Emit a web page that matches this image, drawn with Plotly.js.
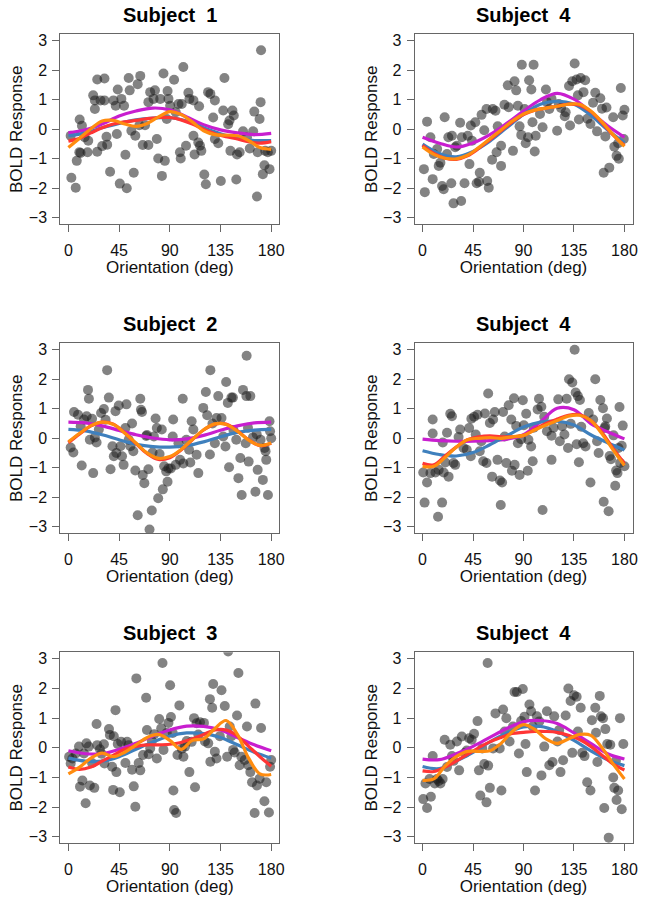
<!DOCTYPE html>
<html>
<head>
<meta charset="utf-8">
<script src="https://cdn.plot.ly/plotly-3.0.1.min.js"></script>
<style>html,body{margin:0;padding:0;background:#fff;}#chart{width:649px;height:900px;}</style>
</head>
<body>
<div id="chart"></div>
<script>
// ---------- DATA ----------
var titles = ["Subject\u00A0\u00A01", "Subject\u00A0\u00A04", "Subject\u00A0\u00A02", "Subject\u00A0\u00A04", "Subject\u00A0\u00A03", "Subject\u00A0\u00A04"];
var xTickVals = [0, 45, 90, 135, 180];
var yTickVals = [-3, -2, -1, 0, 1, 2, 3];
var grid15 = [0, 15, 30, 45, 60, 75, 90, 105, 120, 135, 150, 165, 180];
var grid10 = [0, 10, 20, 30, 40, 50, 60, 70, 80, 90, 100, 110, 120, 130, 140, 150, 160, 170, 180];

// Panel 1 (Subject 1)
var p1_x = [2,2.6,6.5,7.4,9.7,10.8,10,12,14.4,17,17.6,22,23.5,23.5,25.6,25.6,28.5,32,32,30,33.8,34.4,37,40,42,43.8,43,45.6,47,49.4,50.6,51.8,53.5,54.4,55.9,58,59.4,61.5,63.8,63,66,68,71,71,72.6,75.6,76.8,78.5,79.7,81.5,83,84.4,85.6,87.3,88,88.8,90.3,93.8,95.3,97.7,99,99.7,102,100.6,104.4,106.5,107.4,111,111,112,115.3,116,116.8,118,120.6,122,124,126,128.5,130,130,133,135.3,137.4,138.5,141.8,143,143.8,145.6,146.8,149,149.7,152,155,158.5,161,164,165,167.4,168,169.7,170.6,171,172.6,174,174.7,177,178.5,180];
var p1_y = [-0.22,-1.64,-1.98,-1.07,-0.78,-0.8,0.33,0.12,-0.27,-0.78,-0.39,1.15,0.98,0.69,1.69,-0.76,0.98,1.72,0.98,-0.57,-0.25,-0.52,-1.44,0.98,0.8,1.35,-0.16,-1.84,1.03,0.8,-0.86,-2.0,1.74,1.32,-0.05,-1.47,-0.22,1.53,1.81,0.14,-0.53,0.14,-0.53,0.92,1.26,1.03,1.32,-0.33,-0.99,1.03,-1.58,1.89,-1.07,0.35,1.3,1.03,0.8,1.68,0.58,0.86,-0.78,-0.99,2.11,0.86,-0.56,1.24,1.03,-0.22,0.98,-0.85,-0.45,0.78,-0.56,-0.73,-1.53,-1.86,1.26,1.2,0.4,0.98,-0.33,-0.47,-1.75,0.64,1.74,0.17,0.3,-0.73,0.64,0.47,-1.7,-0.85,-0.78,-0.07,-0.27,-0.65,-0.07,0.6,-2.28,-0.78,0.35,0.92,2.68,-1.52,-1.22,-0.73,-0.78,-1.35,-0.73];
var p1_magenta = [-0.12,-0.02,0.18,0.45,0.62,0.72,0.66,0.42,0.15,-0.02,-0.12,-0.18,-0.14];
var p1_blue = [-0.22,-0.12,0.05,0.2,0.32,0.38,0.4,0.28,0.05,-0.15,-0.3,-0.38,-0.38];
var p1_red = [-0.4,-0.3,-0.12,0.05,0.18,0.25,0.3,0.36,0.4,0.4,0.32,0.18,0.0,-0.15,-0.25,-0.33,-0.42,-0.47,-0.42];
var p1_orange = [-0.62,-0.3,0.02,0.28,0.3,0.18,0.1,0.2,0.42,0.6,0.5,0.25,-0.05,-0.18,-0.2,-0.22,-0.38,-0.62,-0.68];

// Panel 2 (Subject 4, top right)
var p2_x = [1.2,2,4,7,9,10,13,14.4,15.9,17.4,18.8,19.7,21.8,23,25.6,26.2,27.6,29.1,30.6,33.5,34.4,35,37.4,40.3,41.8,43,44.1,47,48.2,50.3,51,52.6,55,57.6,59,57,62,62.6,65,66,67,70,70,73,76,76.8,80.6,82,83.5,85,86.5,88,88.5,91,92,94.1,95,97,98,99,100,100.9,104.7,107,110,110.9,113,115,120,121.5,123.5,126.8,127.6,130.6,131.5,133.5,135.6,137.3,138.5,139.4,141,143.5,145,147,149.7,152,154,155.6,158.5,160,161.5,163,164,166.5,170,171,173,174.4,175,176.8,178.5,180,179.4];
var p2_y = [-1.35,-2.13,0.26,-0.27,-1.69,-0.84,-0.67,-1.24,-1.13,-1.92,-2.03,0.41,-0.84,-0.27,-1.83,-0.22,-2.51,-0.61,-0.56,0.22,-2.43,-0.27,-1.83,-0.22,-1.18,0.13,-0.39,0.24,-1.83,-1.78,-1.47,0.49,-0.03,-1.75,-1.98,0.69,-1.03,0.69,0.63,-0.78,0.1,-1.24,-0.56,0.83,1.49,0.75,-0.73,1.63,1.32,0.8,0.1,-0.19,2.19,0.69,-0.47,-0.27,1.66,1.35,0.24,2.19,-0.75,-0.22,0.52,0.07,1.35,0.92,0.69,1.03,-0.05,0.86,0.72,0.44,0.58,1.47,0.13,1.63,2.23,1.69,1.15,0.33,1.74,1.26,1.66,0.36,0.18,0.9,1.24,-0.07,1.05,0.7,-1.47,-0.24,0.74,-1.3,0.41,-0.59,-0.9,-0.47,-1.0,1.4,0.47,0.66,-0.33];
var p2_magenta = [-0.27,-0.47,-0.6,-0.46,-0.18,0.2,0.62,1.0,1.22,1.02,0.58,0.12,-0.27];
var p2_blue = [-0.5,-0.82,-0.93,-0.75,-0.4,0.05,0.5,0.85,0.95,0.85,0.48,-0.02,-0.45];
var p2_red = [-0.55,-0.82,-0.98,-1.02,-0.9,-0.65,-0.35,-0.05,0.25,0.5,0.65,0.72,0.78,0.85,0.82,0.6,0.22,-0.2,-0.55];
var p2_orange = [-0.6,-0.85,-0.98,-1.0,-0.88,-0.62,-0.32,-0.02,0.28,0.52,0.65,0.72,0.78,0.85,0.85,0.62,0.25,-0.18,-0.58];

// Panel 3 (Subject 2)
var p3_x = [2,4.4,5,8.5,10.9,11.8,13.8,16.2,17.4,18.2,19,21,22,23.5,25,27,29,31.5,33,34.4,35.9,37.4,39.1,40.3,41.8,42.6,44.7,46.2,47.6,49,50.6,51.5,53.5,55,56.5,57.6,59.4,61.5,63.8,64.4,65.3,66,67.4,69.1,69.7,71,72,74,74.7,75.9,77.4,78.5,79.7,80.9,82.9,83.8,85,86.8,88,88.8,90.9,92.6,93,95.3,97.7,99.1,101.5,102,104.7,107.1,108.2,109.4,110.9,113.8,115.3,119.7,122,123.2,125.6,126,127.9,130,131.5,133,135.9,137.4,139.4,140,141.5,142.6,144.7,146,146.5,149,150.9,152.6,153.8,155,157.4,158,158.2,159.4,160,161.5,163.8,166,167.1,168,170.6,172.6,174.1,175,175.6,177.1,178.5,179,180];
var p3_y = [-0.31,-0.48,0.89,0.8,0.41,-0.92,0.64,0.75,1.64,1.34,-0.05,0.66,-1.18,0.03,-0.14,0.3,0.86,0.99,0.63,2.31,1.38,-1.05,-0.27,-0.61,0.92,-0.5,1.11,-0.27,-0.61,-0.9,0.35,1.15,-0.05,-0.27,0.5,-0.44,-1.09,-2.61,1.34,0.97,0.89,-1.24,-1.52,0.08,0.11,-1.05,-3.09,-2.45,-0.48,0.06,0.67,0.35,-2.03,-0.53,0.3,-1.73,-0.95,-1.12,-1.47,-1.02,-1.02,0.06,0.64,-0.9,-0.17,-0.73,1.34,-0.85,-0.05,-0.39,-0.82,0.58,0.3,-0.56,-1.18,1.03,1.57,0.78,-0.55,2.31,0.5,-0.17,0.69,1.43,0.69,0.06,-0.28,1.91,1.2,-0.98,1.38,1.38,0.28,-0.05,-1.35,-0.67,-1.92,1.64,-0.17,1.43,2.8,0.36,-0.79,1.43,0.03,-1.81,0.14,-1.07,-0.05,-1.41,-0.33,-0.44,-0.73,-1.92,0.58,0.24,0.0,-1.2,-0.1];
var p3_magenta = [0.55,0.52,0.42,0.27,0.12,0.01,-0.05,-0.02,0.1,0.27,0.42,0.52,0.55];
var p3_blue = [0.3,0.25,0.12,-0.05,-0.2,-0.28,-0.3,-0.25,-0.12,0.05,0.2,0.28,0.3];
var p3_red = [-0.15,0.15,0.42,0.55,0.48,0.18,-0.18,-0.52,-0.72,-0.66,-0.4,-0.05,0.28,0.48,0.48,0.25,-0.05,-0.25,-0.17];
var p3_orange = [-0.12,0.17,0.43,0.55,0.47,0.18,-0.16,-0.5,-0.68,-0.62,-0.38,-0.04,0.29,0.49,0.47,0.24,-0.06,-0.24,-0.16];

// Panel 4 (Subject 4, middle right)
var p4_x = [0.6,1.8,4,7,9,9,11.5,13.8,14.4,17.4,18,18.8,20.3,21.8,23.2,24.7,26.2,27.6,29.1,32.1,33.5,36.5,39.4,41.5,43,43.5,46,47.4,49,51,52.4,54.1,55.6,57,58.5,60,62,62.9,64.4,66.8,69,69.7,70.9,71.8,73.2,74.7,76.8,79.1,79.7,81.5,82.1,83.5,85,86.5,87.9,89.4,90.3,92.4,93.8,94.4,96.8,98.2,99.1,102.6,103.8,105.9,107,108.5,110.9,115,115,116.8,121,122.4,124.4,126.5,128.5,129.7,130.6,132.1,133.5,135.6,136.5,137.4,138.5,139.4,140.3,141.5,143.2,145.3,148.2,149.7,152.1,154,155.6,157,158.5,160.9,161.5,162.4,162.9,164.4,165.9,166.8,168,170.3,171.8,172.6,173.8,174.7,175.6,176.2,177.6,178.5,180];
var p4_y = [-1.16,-2.18,-1.5,-1.18,0.64,0.16,-1.16,-2.66,-1.07,-2.18,-0.14,-1.16,-0.82,0.19,-1.3,0.83,0.75,-0.84,-0.9,0.04,0.3,-0.33,-0.39,0.35,-0.61,0.66,0.73,0.13,0.8,-0.44,-0.1,-0.78,0.84,-0.84,1.52,0.52,-1.3,0.64,0.89,-0.73,-1.43,-2.26,-1.5,0.89,0.06,-0.84,1.12,0.64,-1.1,1.36,-0.9,0.42,-0.17,-1.24,-0.03,1.29,0.44,0.83,-1.1,-0.05,-0.28,-0.78,0.36,0.98,1.34,1.07,-2.43,0.73,0.24,-0.73,0.09,0.36,1.32,-0.1,0.41,0.13,1.34,-0.33,2.0,0.49,1.89,3.0,1.55,-0.2,1.43,-0.81,1.3,0.39,-0.17,-0.28,0.86,-1.5,0.64,2.0,-0.1,-0.5,1.3,1.02,-2.15,0.35,0.41,0.67,-2.47,-0.6,-0.71,0.1,-1.61,-1.09,-1.18,-0.33,1.06,-0.84,-0.25,0.43,-0.95];
var p4_magenta = [-0.03,-0.08,-0.1,-0.1,-0.08,-0.03,0.12,0.55,1.02,0.97,0.5,0.22,-0.02];
var p4_blue = [-0.42,-0.55,-0.6,-0.48,-0.22,0.08,0.38,0.55,0.58,0.45,0.12,-0.15,-0.4];
var p4_red = [-0.85,-0.9,-0.6,-0.3,-0.05,0.05,0.08,0.05,0.05,0.1,0.3,0.5,0.65,0.78,0.8,0.6,0.2,-0.35,-0.85];
var p4_orange = [-0.95,-0.95,-0.65,-0.3,-0.05,0.0,0.02,0.0,0.05,0.1,0.28,0.45,0.6,0.75,0.78,0.6,0.15,-0.4,-0.92];

// Panel 5 (Subject 3)
var p5_x = [0.6,2,3.5,6.5,9.4,10.3,12.4,13.8,15.3,16,18,19,21,23,25,25.6,28,29.4,31.5,32,36,36.8,38.8,39.7,40.3,41.8,42.6,43.8,45.6,46.8,50.6,52.1,53.5,56.5,58,59.4,60.3,62.4,63.8,66.2,69,69.7,71.2,72.6,74.1,76.2,78.5,80.6,82.4,83.5,84.4,87.3,88.8,90.3,91,92.6,93.2,93.8,95.6,96.8,98.5,100.6,102.1,103.5,105,107.4,109.4,111.5,112.4,113.8,115.3,116.8,120.3,121.2,124.1,125.6,126,127.6,128.5,130,131.5,134.4,135.9,138.8,140.9,141.8,143.2,144.7,146.2,147.6,149.7,150.9,152,153.5,156.5,158.5,159.7,161.5,163,165.3,166,167.4,169.7,171,174,175.6,178,179,180];
var p5_y = [-0.3,-0.53,-0.36,-0.19,0.04,-1.31,-1.1,-0.19,-1.87,0.15,0.04,-1.27,-0.51,-1.35,0.8,0.09,-0.05,-0.2,0.12,-0.53,0.63,0.43,-0.64,-1.42,0.39,1.27,-0.82,0.13,-1.5,0.2,-0.51,0.2,0.09,-0.74,-1.3,-1.99,2.34,-0.51,-0.76,-0.24,1.69,0.6,-0.22,-0.02,0.23,0.46,-0.36,0.97,0.66,2.86,-0.07,0.5,0.84,2.11,1.04,0.5,-1.44,-2.1,-2.2,-0.24,1.43,-0.03,-0.3,0.04,0.23,-0.82,0.2,1.0,-1.33,0.83,0.45,0.86,0.84,0.21,0.15,1.64,-0.47,1.35,2.15,-0.13,-0.36,0.39,1.94,1.41,-0.3,3.25,0.72,0.39,-0.07,-0.16,1.09,2.52,-0.59,-0.3,-0.41,0.72,-0.59,-0.82,-1.16,-2.2,1.49,-1.27,-1.04,0.67,-1.8,-1.16,-2.18,-0.64,-0.41];
var p5_magenta = [-0.1,-0.2,-0.2,-0.05,0.15,0.4,0.6,0.73,0.72,0.6,0.35,0.1,-0.1];
var p5_blue = [-0.35,-0.45,-0.45,-0.3,-0.05,0.2,0.4,0.5,0.48,0.35,0.1,-0.15,-0.35];
var p5_red = [-0.65,-0.73,-0.65,-0.45,-0.25,-0.05,0.05,0.1,0.1,0.12,0.18,0.3,0.45,0.6,0.6,0.4,0.05,-0.3,-0.62];
var p5_orange = [-0.88,-0.65,-0.35,-0.18,-0.3,-0.15,0.1,0.35,0.45,0.25,-0.05,0.25,0.3,0.65,0.92,0.45,-0.35,-0.88,-0.9];

// Panel 6 (Subject 4, bottom right)
var p6_x = [0.6,2.6,4,6.2,7.4,9,10.9,12.9,14.4,15.9,17.9,19.7,21.8,24.7,26.2,27.6,30.6,32.6,35,37.9,39.4,41.5,43.8,45.9,49,50.3,51.5,53.2,55,57,58.5,60,58,62.9,65,68.8,70.3,71.8,73.2,74.7,77.6,80.6,82,84.1,85.9,87.9,89.4,90.9,91.8,92.9,95.3,96.8,98.2,100.3,102,104.1,106,108.5,110.9,113,115.9,117.4,120.3,121.8,123,125.3,127.6,130,132,133.5,135,137.4,138.5,141,142.4,144.4,146.8,149.7,151,154,154.7,155.9,158,159.1,160.9,162,163,164.7,166,167.4,170,171,172.4,173,174.4,176,177.6,179];
var p6_y = [-1.73,-1.2,-2.03,-1.05,-1.65,-0.28,-1.2,-1.05,-1.12,-1.2,-1.05,0.27,-0.65,0.1,-0.28,-0.44,0.21,-0.76,0.38,-0.17,-0.09,0.32,0.27,0.47,0.9,-0.76,-1.61,-0.02,-0.55,-1.84,-0.6,-1.35,2.86,-0.02,1.16,-0.02,-1.44,1.29,0.55,1.0,0.21,0.72,1.88,1.88,-0.19,0.9,1.98,1.05,0.13,-0.82,1.46,1.23,0.72,-1.44,1.06,0.89,-0.93,0.04,1.23,-0.59,-0.48,1.06,0.21,0.6,-0.82,-0.42,1.09,2.0,1.58,-0.17,1.77,1.72,0.55,1.35,-0.17,-0.28,-1.16,-1.44,0.93,1.35,0.51,-0.48,1.75,1.06,1.0,-2.03,0.63,0.13,-3.03,0.1,-1.0,-1.35,-0.44,-1.76,-1.44,1.0,-2.07,0.13];
var p6_magenta = [-0.38,-0.4,-0.2,0.05,0.35,0.65,0.88,0.92,0.82,0.5,0.15,-0.2,-0.38];
var p6_blue = [-0.63,-0.7,-0.45,-0.15,0.2,0.5,0.7,0.72,0.55,0.25,-0.1,-0.4,-0.6];
var p6_red = [-0.78,-0.8,-0.65,-0.45,-0.22,0.0,0.2,0.35,0.48,0.52,0.55,0.55,0.52,0.42,0.28,0.05,-0.25,-0.55,-0.75];
var p6_orange = [-1.1,-1.05,-0.62,-0.3,-0.12,-0.12,-0.1,0.15,0.55,0.78,0.62,0.3,0.15,0.3,0.45,0.42,0.0,-0.55,-1.05];

// ---------- BUILD ----------
var panels = [
  {px: p1_x, py: p1_y, m: p1_magenta, b: p1_blue, r: p1_red, o: p1_orange},
  {px: p2_x, py: p2_y, m: p2_magenta, b: p2_blue, r: p2_red, o: p2_orange},
  {px: p3_x, py: p3_y, m: p3_magenta, b: p3_blue, r: p3_red, o: p3_orange},
  {px: p4_x, py: p4_y, m: p4_magenta, b: p4_blue, r: p4_red, o: p4_orange},
  {px: p5_x, py: p5_y, m: p5_magenta, b: p5_blue, r: p5_red, o: p5_orange},
  {px: p6_x, py: p6_y, m: p6_magenta, b: p6_blue, r: p6_red, o: p6_orange}
];

var W = 649, H = 900;
var colPx = [[60.3, 279.3], [414.5, 632.5]];
var rowPx = [[34.3, 224.3], [343.3, 533.3], [652.3, 843.3]];

var FONT = "Liberation Sans, Arial, Helvetica, sans-serif";
var traces = [];
var layout = {
  width: W, height: H,
  margin: {l: 0, r: 0, t: 0, b: 0},
  paper_bgcolor: "#ffffff", plot_bgcolor: "#ffffff",
  showlegend: false,
  font: {family: FONT, color: "#111"},
  annotations: []
};

function lineTrace(xs, ys, color, xa, ya) {
  return {x: xs, y: ys, xaxis: xa, yaxis: ya, type: "scatter", mode: "lines",
          line: {color: color, width: 3.2, shape: "spline", smoothing: 1}, hoverinfo: "skip"};
}

panels.forEach(function (p, i) {
  var row = Math.floor(i / 2), col = i % 2;
  var n = i + 1;
  var xa = n === 1 ? "x" : "x" + n;
  var ya = n === 1 ? "y" : "y" + n;
  var xkey = n === 1 ? "xaxis" : "xaxis" + n;
  var ykey = n === 1 ? "yaxis" : "yaxis" + n;
  var xd = [colPx[col][0] / W, colPx[col][1] / W];
  var yd = [1 - rowPx[row][1] / H, 1 - rowPx[row][0] / H];

  traces.push({x: p.px, y: p.py, xaxis: xa, yaxis: ya, type: "scatter", mode: "markers",
               marker: {size: 10, color: "rgba(30,30,30,0.55)", line: {width: 0}}, hoverinfo: "skip"});
  traces.push(lineTrace(grid15, p.m, "#C81ECF", xa, ya));
  traces.push(lineTrace(grid15, p.b, "#3F80BD", xa, ya));
  traces.push(lineTrace(grid10, p.r, "#FF3535", xa, ya));
  traces.push(lineTrace(grid10, p.o, "#FF8C0F", xa, ya));

  layout[xkey] = {
    domain: xd, anchor: ya, range: [-7.2, 187.2], tickmode: "array", tickvals: xTickVals,
    showline: true, mirror: true, linecolor: "#666", linewidth: 1,
    ticks: "outside", ticklen: 7, tickcolor: "#666", ticklabelstandoff: 4,
    tickfont: {size: 16, color: "#111"}, showgrid: false, zeroline: false,
    title: {text: "Orientation (deg)", font: {size: 17, color: "#111"}, standoff: 1}
  };
  layout[ykey] = {
    domain: yd, anchor: xa, range: [-3.22, 3.22], tickmode: "array", tickvals: yTickVals,
    showline: true, mirror: true, linecolor: "#666", linewidth: 1,
    ticks: "outside", ticklen: 7, tickcolor: "#666", ticklabelstandoff: 2,
    tickfont: {size: 16, color: "#111"}, showgrid: false, zeroline: false,
    title: {text: "BOLD Response", font: {size: 17, color: "#111"}, standoff: 1}
  };
  layout.annotations.push({
    text: "<b>" + titles[i] + "</b>", xref: "paper", yref: "paper",
    x: (xd[0] + xd[1]) / 2, y: yd[1] + 19 / H, xanchor: "center", yanchor: "middle",
    showarrow: false, font: {size: 20, color: "#000", family: FONT}
  });
});

Plotly.newPlot("chart", traces, layout, {staticPlot: true, displayModeBar: false});
</script>
</body>
</html>
